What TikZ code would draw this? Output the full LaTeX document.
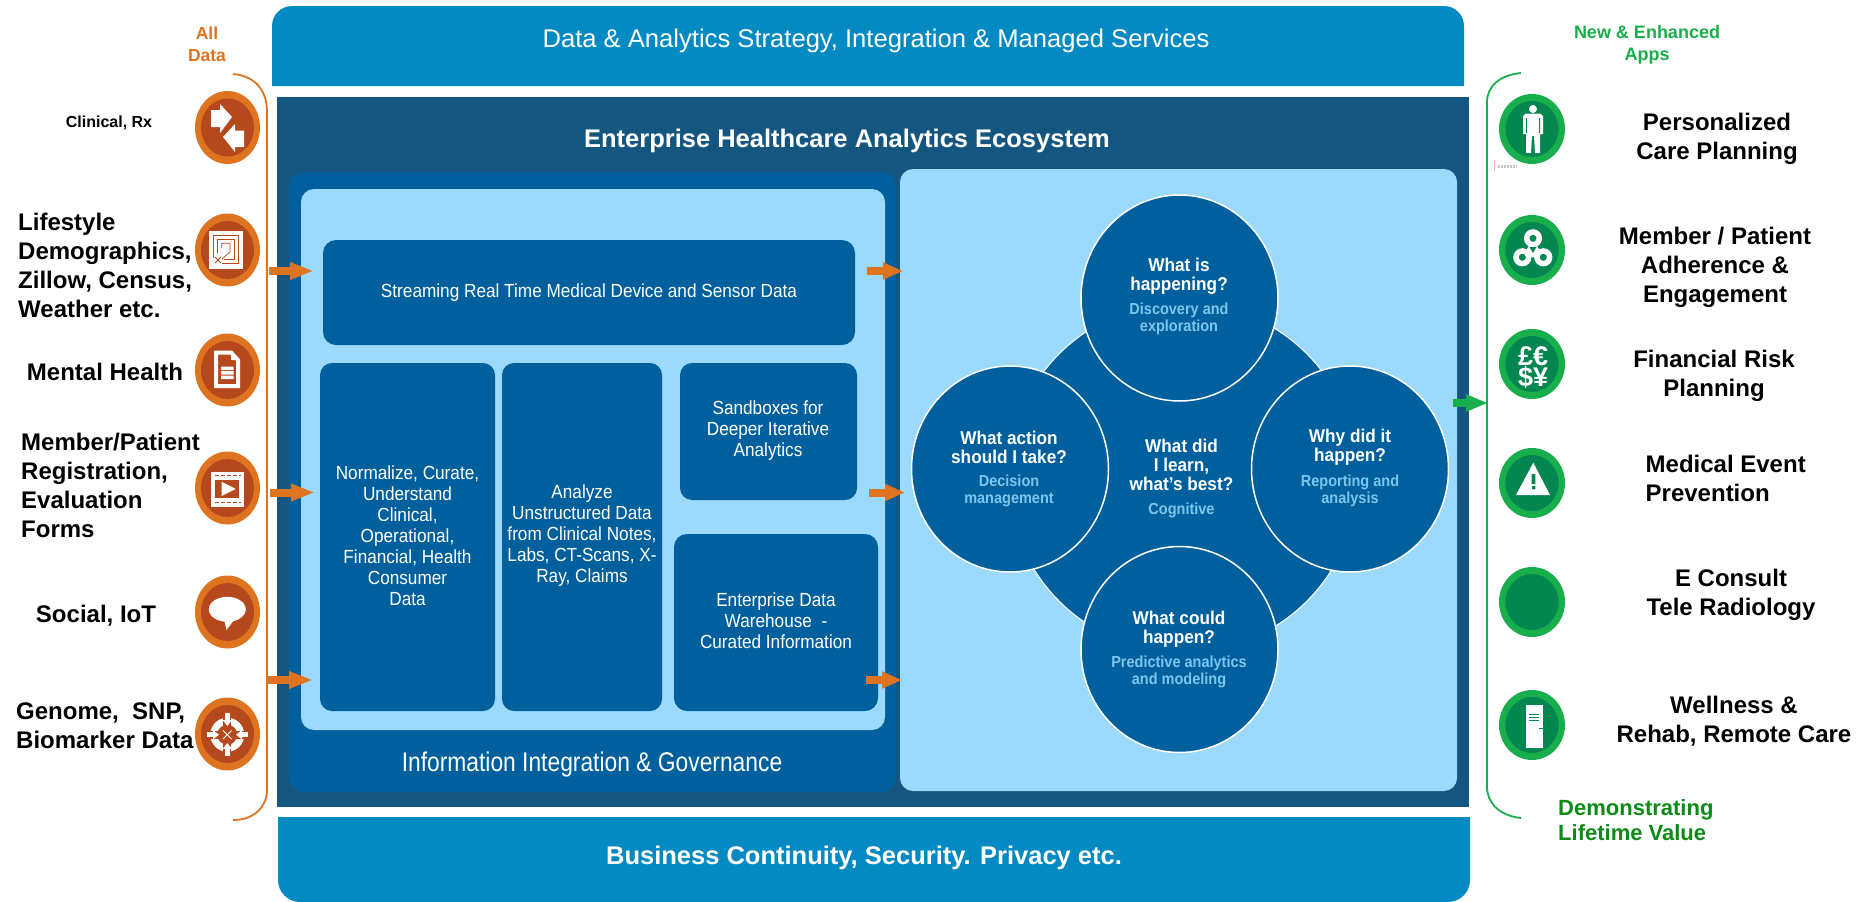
\documentclass[tikz,border=0pt]{standalone}
\usepackage{fontspec}
\setmainfont{Liberation Sans}
\newfontfamily\boxfont[FakeStretch=.905]{Liberation Sans}
\newfontfamily\govfont[FakeStretch=.845]{Liberation Sans}
\newfontfamily\askfont[FakeStretch=.93]{Liberation Sans}
\newfontfamily\subfont[FakeStretch=.906]{Liberation Sans}
\usetikzlibrary{arrows.meta,shapes.geometric}
\definecolor{barblue}{HTML}{048AC2}
\definecolor{panelblue}{HTML}{14567F}
\definecolor{boxblue}{HTML}{00609D}
\definecolor{paleblue}{HTML}{9BDAFD}
\definecolor{subblue}{HTML}{7CC6EE}
\definecolor{inorange}{HTML}{DE7320}
\definecolor{inrust}{HTML}{B5481C}
\definecolor{appgreen}{HTML}{18AE4B}
\definecolor{appdark}{HTML}{038650}
\definecolor{valuegreen}{HTML}{0C8A16}
\newcommand{\fpx}[2]{\fontsize{#1}{#2}\selectfont}
\tikzset{
    blockbox/.style={text=white, align=center, font=\boxfont\fpx{19}{21}, inner sep=0},
    whcircle/.style={ellipse, fill=boxblue, draw=white, line width=1.5, minimum width=197, minimum height=206, inner sep=0},
    qtext/.style={text=white, align=center, font=\askfont\bfseries\fpx{18.5}{19}, inner sep=0},
    atext/.style={text=subblue, align=center, font=\subfont\bfseries\fpx{16}{16.4}, inner sep=0},
    blacklabel/.style={align=center, font=\bfseries\fpx{24}{29}, inner sep=0},
    feedarrow/.style={draw=inorange, line width=8, -{Triangle[length=24,width=16]}, shorten >=0},
    orangedisc/.style={ellipse, fill=inorange, minimum width=65, minimum height=73, inner sep=0},
    rustdisc/.style={ellipse, fill=inrust, minimum width=53, minimum height=58, inner sep=0},
    greendisc/.style={ellipse, fill=appgreen, minimum width=66, minimum height=70, inner sep=0},
    darkdisc/.style={ellipse, fill=appdark, minimum width=53, minimum height=56, inner sep=0},
}
\begin{document}
\begin{tikzpicture}[x=1pt,y=-1pt]
    \useasboundingbox (0,0) rectangle (1872,902);

    % bars and panels
    \fill[barblue] (272,86) -- (272,26) arc (180:270:20) -- (1444,6) arc (270:360:20) -- (1464,86) -- cycle;
    \fill[barblue] (278,817) -- (1470,817) -- (1470,880) arc (0:90:22) -- (300,902) arc (90:180:22) -- cycle;
    \fill[panelblue] (277,97) rectangle (1469,807);
    \fill[boxblue, rounded corners=15] (289,172) rectangle (896,792);
    \fill[paleblue, rounded corners=13] (301,189) rectangle (885,730);
    \fill[paleblue, rounded corners=13] (900,169) rectangle (1457,791);

    \node[text=white, font=\fpx{25.6}{30}, inner sep=0] (strategy) at (876,40.5) {Data \& Analytics Strategy, Integration \& Managed Services};
    \node[text=white, font=\bfseries\fpx{25.5}{30}, inner sep=0] (continuity) at (864,857.5) {Business Continuity, Security. Privacy etc.};
    \node[text=white, font=\bfseries\fpx{25.5}{30}, inner sep=0] (ecosystem) at (847,141) {Enterprise Healthcare Analytics Ecosystem};
    \node[text=white, font=\govfont\fpx{27}{30}, inner sep=0] (governance) at (592,765) {Information Integration \& Governance};

    % boxes of the left panel
    \fill[boxblue, rounded corners=13] (323,240) rectangle (855,345);
    \fill[boxblue, rounded corners=12] (320,363) rectangle (495,711);
    \fill[boxblue, rounded corners=12] (502,363) rectangle (662,711);
    \fill[boxblue, rounded corners=12] (680,363) rectangle (857,500);
    \fill[boxblue, rounded corners=13] (674,534) rectangle (878,711);
    \node[blockbox] (streaming) at (589,293) {Streaming Real Time Medical Device and Sensor Data};
    \node[blockbox] (normalize) at (407.5,536) {Normalize, Curate,\\Understand\\Clinical,\\Operational,\\Financial, Health\\Consumer\\Data};
    \node[blockbox] (analyze) at (582,536) {Analyze\\Unstructured Data\\from Clinical Notes,\\Labs, CT-Scans, X-\\Ray, Claims};
    \node[blockbox] (sandbox) at (768,431) {Sandboxes for\\Deeper Iterative\\Analytics};
    \node[blockbox] (warehouse) at (776,621) {Enterprise Data\\Warehouse\ \ -\\Curated Information};

    % four questions round the centre
    \draw[fill=boxblue, draw=white, line width=1] (1183,477.5) circle (175);
    \node[whcircle] (happening) at (1179.5,298) {};
    \node[whcircle] (occurred) at (1350,469) {};
    \node[whcircle] (could) at (1179.5,649.5) {};
    \node[whcircle] (action) at (1010,469) {};
    \node[qtext] (qhappening) at (1179,276.5) {What is\\happening?};
    \node[atext] (ahappening) at (1179,319) {Discovery and\\exploration};
    \node[qtext] (qoccurred) at (1350,447.5) {Why did it\\happen?};
    \node[atext] (aoccurred) at (1350,491) {Reporting and\\analysis};
    \node[qtext] (qcould) at (1179,629) {What could\\happen?};
    \node[atext] (acould) at (1179,672) {Predictive analytics\\and modeling};
    \node[qtext] (qaction) at (1009,447.5) {What action\\should I take?};
    \node[atext] (aaction) at (1009,491) {Decision\\management};
    \node[qtext] (qlearn) at (1181.5,465) {What did\\I learn,\\what’s best?};
    \node[atext] (alearn) at (1181.5,510) {Cognitive};

    % feed arrows
    \coordinate (feedA) at (269,271);
    \coordinate (feedAend) at (314,271);
    \coordinate (feedB) at (270,492.5);
    \coordinate (feedBend) at (315,492.5);
    \coordinate (feedC) at (267,680);
    \coordinate (feedCend) at (313,680);
    \coordinate (passA) at (867,271);
    \coordinate (passAend) at (903,271);
    \coordinate (passB) at (869,492.5);
    \coordinate (passBend) at (905,492.5);
    \coordinate (passC) at (865.5,680);
    \coordinate (passCend) at (902,680);
    \coordinate (outA) at (1453,403);
    \coordinate (outAend) at (1488,403);
    \draw[feedarrow] (feedA) -- (feedAend);
    \draw[feedarrow] (feedB) -- (feedBend);
    \draw[feedarrow] (feedC) -- (feedCend);
    \draw[feedarrow, -{Triangle[length=20,width=16]}] (passA) -- (passAend);
    \draw[feedarrow, -{Triangle[length=20,width=16]}] (passB) -- (passBend);
    \draw[feedarrow, -{Triangle[length=20,width=16]}] (passC) -- (passCend);
    \draw[feedarrow, draw=appgreen, -{Triangle[length=22,width=16]}] (outA) -- (outAend);

    % brackets
    \draw[inorange, line width=1.8] (233,74) .. controls (255,76) and (267,90) .. (267,112) -- (267,790) .. controls (267,806) and (255,820) .. (233,820);
    \draw[appgreen, line width=1.8] (1521,73) .. controls (1500,75) and (1487,86) .. (1487,102) -- (1487,787) .. controls (1487,803) and (1500,816) .. (1521,818);

    % left labels
    \node[text=inorange, align=center, font=\bfseries\fpx{17.5}{22}, inner sep=0] (alldata) at (207,44) {All\\Data};
    \node[font=\bfseries\fpx{16}{19}, inner sep=0] (clinical) at (109,123) {Clinical, Rx};
    \node[blacklabel, align=left, anchor=west] (lifestyle) at (18,265.5) {Lifestyle\\Demographics,\\Zillow, Census,\\Weather etc.};
    \node[blacklabel] (mental) at (105,372) {Mental Health};
    \node[blacklabel, align=left, anchor=west] (member) at (21,485.5) {Member/Patient\\Registration,\\Evaluation\\Forms};
    \node[blacklabel] (social) at (96,615.5) {Social, IoT};
    \node[blacklabel, align=left, anchor=west] (genome) at (16,726) {Genome,\ \ SNP,\\Biomarker Data};

    % left discs
    \node[orangedisc] (discA) at (227.5,127.5) {};
    \node[rustdisc] at (discA) {};
    \node[orangedisc] (discB) at (227.5,250) {};
    \node[rustdisc] at (discB) {};
    \node[orangedisc] (discC) at (227.5,370) {};
    \node[rustdisc] at (discC) {};
    \node[orangedisc] (discD) at (227.5,488) {};
    \node[rustdisc] at (discD) {};
    \node[orangedisc] (discE) at (227.5,612) {};
    \node[rustdisc] at (discE) {};
    \node[orangedisc] (discF) at (227.5,734) {};
    \node[rustdisc] at (discF) {};

    % left icons
    \fill[white] (211,110) -- (220,110) -- (220,104) -- (232,117) -- (220,133) -- (220,127) -- (211,127) -- cycle;
    \fill[white] (223,137) -- (235,124) -- (235,130.5) -- (244,130.5) -- (244,147) -- (235,147) -- (235,152) -- cycle;

    \fill[white] (209,231) rectangle (243,269);
    \draw[inrust, line width=.7] (213,258) -- (213,235) -- (238.7,235) -- (238.7,263) -- (222,263);
    \draw[inrust, line width=.7] (217.3,253) -- (217.3,239.3) -- (234.3,239.3) -- (234.3,259) -- (224,259);
    \draw[inrust, line width=.7] (221.7,248) -- (221.7,243.3) -- (230,243.3) -- (230,252) -- (222,259);
    \draw[inrust, line width=1] (215,263) -- (221,257) (215,257) -- (221,263);

    \draw[white, line width=4, fill=inrust] (216,352.5) -- (231,352.5) -- (238,360) -- (238,386) -- (216,386) -- cycle;
    \fill[white] (231,353) -- (231,360) -- (238,360) -- cycle;
    \fill[white] (221,366.5) rectangle (233.5,370) (221,371) rectangle (233.5,374.5) (221,375.5) rectangle (233.5,379);

    \fill[white] (211,472) rectangle (244,506.7);
    \fill[inrust] (215,480) rectangle (239.3,498.3);
    \fill[white] (221.7,481.7) -- (235.7,489) -- (221.7,496) -- cycle;
    \draw[inrust, line width=.8, dash pattern=on 4 off 2] (215,475.5) -- (241,475.5) (215,502.5) -- (241,502.5);

    \fill[white] (227.3,609.3) ellipse (18.5 and 12.5);
    \fill[white] (224,619) -- (226.5,630) -- (234,620) -- cycle;

    \fill[white] (227.3,734.7) circle (17);
    \fill[inrust] (227.3,734.7) circle (10);
    \draw[inrust, line width=8] (206,734.7) -- (249,734.7) (227.3,713) -- (227.3,756);
    \draw[white, line width=5, -{Triangle[length=6,width=9]}] (207,734.7) -- (219,734.7);
    \draw[white, line width=5, -{Triangle[length=6,width=9]}] (248,734.7) -- (236,734.7);
    \draw[white, line width=5, -{Triangle[length=6,width=9]}] (227.3,713) -- (227.3,726);
    \draw[white, line width=5, -{Triangle[length=6,width=9]}] (227.3,756) -- (227.3,743);
    \draw[white, line width=1] (223,730.5) -- (231.5,739) (223,739) -- (231.5,730.5);

    % right labels
    \node[text=appgreen, align=center, font=\bfseries\fpx{18}{21.5}, inner sep=0] (newapps) at (1647,45) {New \& Enhanced\\Apps};
    \node[blacklabel] (care) at (1717,138.5) {Personalized\\Care Planning};
    \node[blacklabel] (adherence) at (1715,267) {Member / Patient\\Adherence \&\\Engagement};
    \node[blacklabel] (risk) at (1714,376) {Financial Risk\\Planning};
    \node[blacklabel, align=left, anchor=west] (event) at (1645.5,478.5) {Medical Event\\Prevention};
    \node[blacklabel] (consult) at (1731,594.5) {E Consult\\Tele Radiology};
    \node[blacklabel] (wellness) at (1734,721) {Wellness \&\\Rehab, Remote Care};
    \node[text=valuegreen, align=left, anchor=west, font=\bfseries\fpx{22}{25.5}, inner sep=0] (lifetime) at (1558,820) {Demonstrating\\Lifetime Value};

    % right discs
    \node[greendisc] (appA) at (1532,129) {};
    \node[darkdisc] at (appA) {};
    \node[greendisc] (appB) at (1532,250) {};
    \node[darkdisc] at (appB) {};
    \node[greendisc] (appC) at (1532,364) {};
    \node[darkdisc] at (appC) {};
    \node[greendisc] (appD) at (1532,483) {};
    \node[darkdisc] at (appD) {};
    \node[greendisc] (appE) at (1532,602) {};
    \node[darkdisc] at (appE) {};
    \node[greendisc] (appF) at (1532,725) {};
    \node[darkdisc] at (appF) {};

    % right icons
    \fill[white] (1533,109) circle (4);
    \fill[white] (1526,113.5) -- (1540,113.5) -- (1543,116) -- (1543,134) -- (1540,134) -- (1540,153) -- (1535,153) -- (1534,136) -- (1532,136) -- (1531,153) -- (1526,153) -- (1526,134) -- (1523,134) -- (1523,116) -- cycle;
    \fill[appdark] (1526,118) rectangle (1526.8,133) (1539.2,118) rectangle (1540,133);
    \draw[gray!45, line width=3, dash pattern=on 2 off 1] (1498,166) -- (1517,166);
    \draw[red!35, line width=.8] (1494,161) -- (1494,171);

    \fill[white] (1533,238.3) -- (1522.3,257.3) -- (1543.3,257.3) -- cycle;
    \draw[white, line width=5.5, fill=appdark] (1533,238.3) circle (6.3) (1522.3,257.3) circle (6.3) (1543.3,257.3) circle (6.3);
    \fill[appdark] (1529.5,247) -- (1536.5,247) -- (1533,253) -- cycle;

    \node[text=white, align=center, font=\bfseries\fpx{27}{21}, inner sep=0] (money) at (1533,368) {£€\\\$¥};

    \fill[white] (1533.3,462.7) -- (1550,495) -- (1516,495) -- cycle;
    \fill[appdark] (1531.7,474) rectangle (1535.3,484) (1532,486) rectangle (1535.3,489.3);

    \fill[white] (1526,705) rectangle (1543,747.7);
    \draw[appdark, line width=1] (1529.3,714) -- (1539.3,714) (1529.3,717.3) -- (1539.3,717.3) (1529.3,720.7) -- (1539.3,720.7);
    \draw[appdark, line width=1] (1539,728) -- (1543,728);
\end{tikzpicture}
\end{document}
